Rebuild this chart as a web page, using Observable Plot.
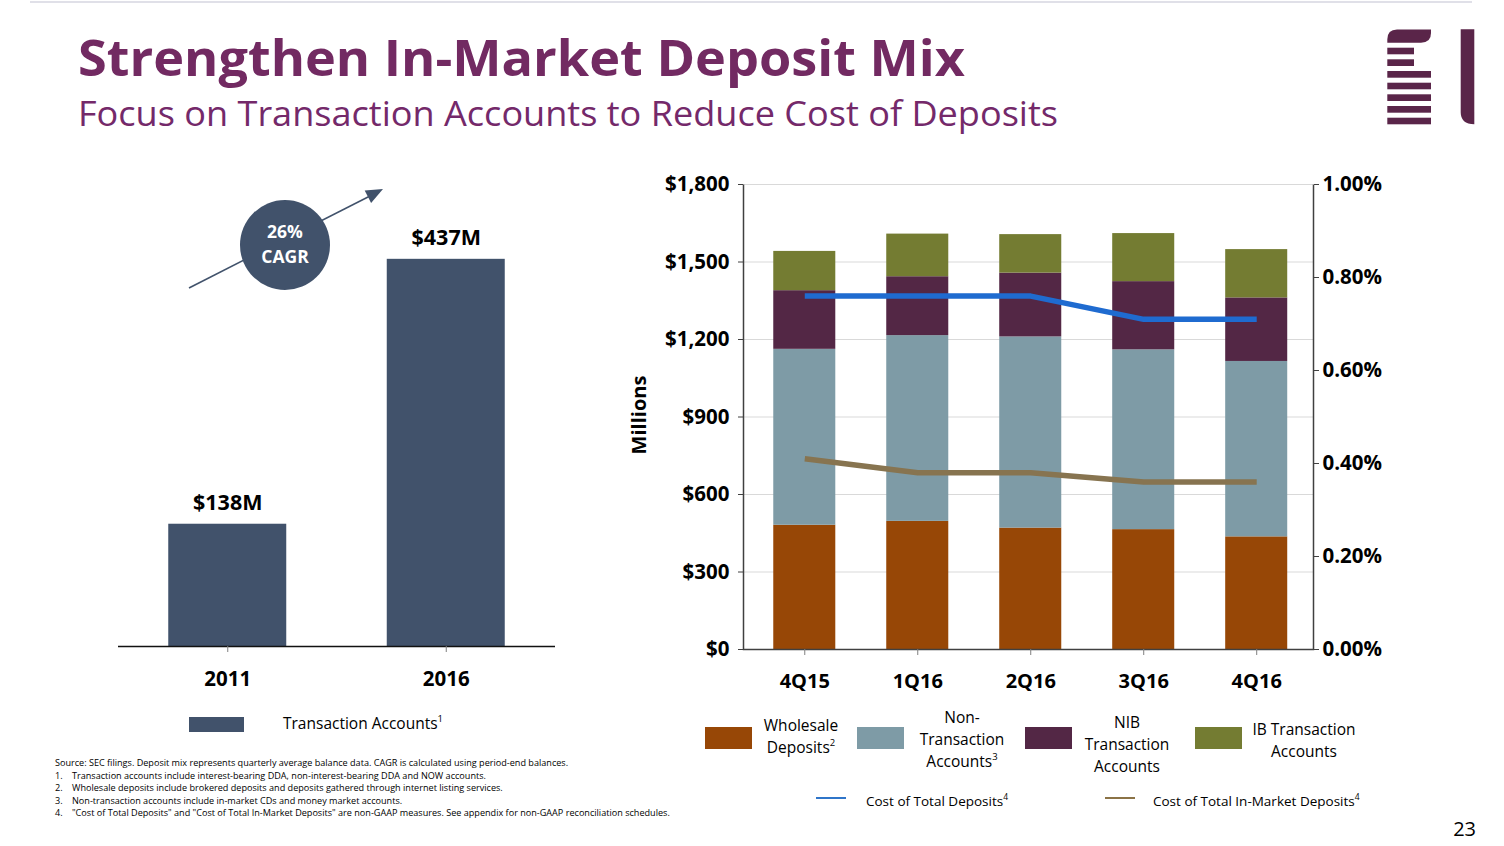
<!DOCTYPE html>
<html><head><meta charset="utf-8">
<script src="https://cdn.jsdelivr.net/npm/d3@7"></script>
<script src="https://cdn.jsdelivr.net/npm/@observablehq/plot@0.6"></script>
<style>
body{margin:0;background:#fff;}
#page{position:relative;width:1504px;height:846px;overflow:hidden;font-family:"Open Sans",sans-serif;background:#fff;}
#deco{position:absolute;left:0;top:0;}
#leftChart{position:absolute;left:40px;top:160px;}
#rightChart{position:absolute;left:600px;top:160px;}
</style></head><body><div id="page">
<div id="leftChart"></div>
<div id="rightChart"></div>
<svg id="deco" width="1504" height="846" font-family="Open Sans, sans-serif"></svg>
</div>
<script>
// ---------- data ----------
const years = ["2011", "2016"];
const transactionAccounts = [138, 437];
const transactionLabels = ["$138M", "$437M"];

const quarters = ["4Q15", "1Q16", "2Q16", "3Q16", "4Q16"];
const wholesale      = [481, 496, 470, 464, 436];
const nonTransaction = [681, 719, 740, 696, 679];
const nibTransaction = [227, 228, 247, 264, 246];
const ibTransaction  = [152, 165, 149, 186, 187];
const costTotal      = [0.76, 0.76, 0.76, 0.71, 0.71];  // %
const costInMarket   = [0.41, 0.38, 0.38, 0.36, 0.36];  // %

const seriesNames = ["Wholesale Deposits", "Non-Transaction Accounts", "NIB Transaction Accounts", "IB Transaction Accounts"];
const seriesColors = ["#974706", "#7e9ba6", "#532745", "#747c32"];
const lineNames = ["Cost of Total Deposits", "Cost of Total In-Market Deposits"];
const lineColors = ["#1f6bd0", "#877450"];

const leftTicks = [0, 300, 600, 900, 1200, 1500, 1800];
const leftTickLabels = ["$0", "$300", "$600", "$900", "$1,200", "$1,500", "$1,800"];
const rightTicks = [0, 0.2, 0.4, 0.6, 0.8, 1.0];
const rightTickLabels = ["0.00%", "0.20%", "0.40%", "0.60%", "0.80%", "1.00%"];
const rightMax = 1.0, leftMax = 1800; // 1.00% aligns with $1,800

// ---------- left chart ----------
const leftData = years.map((y, i) => ({year: y, value: transactionAccounts[i], label: transactionLabels[i]}));
const left = Plot.plot({
  width: 560, height: 560,
  marginLeft: 78, marginRight: 45, marginTop: 43, marginBottom: 74,
  style: {fontFamily: "Open Sans, sans-serif", color: "#000", background: "transparent", overflow: "visible"},
  x: {domain: years, paddingInner: 0.46, paddingOuter: 0.23, round: false},
  y: {domain: [0, 500], axis: null},
  marks: [
    Plot.barY(leftData, {x: "year", y: "value", fill: "#41526b"}),
    Plot.ruleY([0], {stroke: "#111", strokeWidth: 1.5}),
    Plot.text(leftData, {x: "year", y: "value", text: "label", dy: -21, fontSize: 21.5, fontWeight: "bold", fill: "#000"}),
    Plot.axisX({tickSize: 6, tickPadding: 19, stroke: "#7f7f7f", fontSize: 20.5, fontWeight: "bold", label: null})
  ]
});
document.getElementById("leftChart").append(left);

// ---------- right chart ----------
const stackData = [];
seriesNames.forEach((s, k) => {
  const vals = [wholesale, nonTransaction, nibTransaction, ibTransaction][k];
  quarters.forEach((q, i) => stackData.push({quarter: q, series: s, value: vals[i]}));
});
const lineData = [];
[costTotal, costInMarket].forEach((vals, k) => {
  quarters.forEach((q, i) => lineData.push({quarter: q, series: lineNames[k], pct: vals[i]}));
});
const toLeft = p => p / rightMax * leftMax;
const W = 570, H = 465;
const right = Plot.plot({
  width: 800, height: 560,
  marginLeft: 143, marginRight: 87, marginTop: 24, marginBottom: 71,
  style: {fontFamily: "Open Sans, sans-serif", color: "#000", background: "transparent", overflow: "visible"},
  x: {domain: quarters, paddingInner: 0.451, paddingOuter: 0.248, align: 0.54, round: false},
  y: {domain: [0, leftMax]},
  color: {domain: seriesNames, range: seriesColors},
  marks: [
    Plot.gridY(leftTicks, {stroke: "#d9d9d9", strokeOpacity: 1, strokeWidth: 1.2}),
    Plot.barY(stackData, {x: "quarter", y: "value", fill: "series", order: seriesNames}),
    Plot.line(lineData, {x: "quarter", y: d => toLeft(d.pct), z: "series",
      stroke: d => d.series === lineNames[0] ? lineColors[0] : lineColors[1], strokeWidth: 5.5, strokeLinejoin: "miter", strokeLinecap: "butt"}),
    Plot.frame({stroke: "#404040", strokeWidth: 1.5, strokeDasharray: `0,${W},${2 * H + W}`}),
    Plot.axisY({ticks: leftTicks, tickFormat: (d) => leftTickLabels[leftTicks.indexOf(d)], tickSize: 5, tickPadding: 9,
      stroke: "#404040", fontSize: 20.5, fontWeight: "bold", label: null}),
    Plot.axisY({anchor: "right", ticks: rightTicks.map(toLeft), tickFormat: (d, i) => rightTickLabels[i], tickSize: 5, tickPadding: 4,
      stroke: "#404040", fontSize: 20.5, fontWeight: "bold", label: null}),
    Plot.axisX({tickSize: 6, tickPadding: 18, stroke: "#7f7f7f", fontSize: 20, fontWeight: "bold", label: null})
  ]
});
document.getElementById("rightChart").append(right);

// ---------- decorations, titles, legends ----------
const svg = d3.select("#deco");
svg.append("line").attr("x1", 30).attr("x2", 1472).attr("y1", 2).attr("y2", 2).attr("stroke", "#d6d6e0").attr("stroke-width", 1.5);
svg.append("text").attr("x", 78).attr("y", 76).attr("font-size", 50).attr("font-weight", "bold").attr("fill", "#722a62")
  .attr("textLength", 887).attr("lengthAdjust", "spacingAndGlyphs").text("Strengthen In-Market Deposit Mix");
svg.append("text").attr("x", 78).attr("y", 126).attr("font-size", 34).attr("fill", "#74296a")
  .attr("textLength", 980).attr("lengthAdjust", "spacingAndGlyphs").text("Focus on Transaction Accounts to Reduce Cost of Deposits");

// logo
const logo = svg.append("g").attr("fill", "#5a2549");
logo.append("path").attr("d", "M1397,29.5 H1431 V33 Q1431,42.7 1421,42.7 H1387.3 V39.5 Q1387.3,29.5 1397,29.5 Z");
[[47.7, 54.3, 1414], [59.3, 66, 1414], [71, 77.7, 1431], [82.7, 89.3, 1431], [94.3, 101, 1431], [106, 112.7, 1431], [117.7, 124.3, 1431]]
  .forEach(([y0, y1, x1]) => logo.append("rect").attr("x", 1387.3).attr("y", y0).attr("width", x1 - 1387.3).attr("height", y1 - y0));
logo.append("path").attr("d", "M1460.7,29.3 H1474.3 V124.3 Q1460.7,124.3 1460.7,112 Z");

// CAGR annotation
const ann = svg.append("g");
ann.append("line").attr("x1", 189).attr("y1", 288).attr("x2", 370).attr("y2", 196).attr("stroke", "#41526b").attr("stroke-width", 1.6);
ann.append("polygon").attr("points", "383,189 371.1,202.9 364.7,190.5").attr("fill", "#41526b");
ann.append("circle").attr("cx", 285).attr("cy", 245).attr("r", 45).attr("fill", "#41526b");
ann.append("text").attr("x", 285).attr("y", 238).attr("text-anchor", "middle").attr("font-size", 17.5).attr("font-weight", "bold").attr("fill", "#fff").text("26%");
ann.append("text").attr("x", 285).attr("y", 263).attr("text-anchor", "middle").attr("font-size", 17.5).attr("font-weight", "bold").attr("fill", "#fff").text("CAGR");

// left legend
svg.append("rect").attr("x", 189).attr("y", 717).attr("width", 55).attr("height", 15).attr("fill", "#41526b");
const ll = svg.append("text").attr("x", 283).attr("y", 729).attr("font-size", 15.5).attr("fill", "#000");
ll.append("tspan").text("Transaction Accounts");
ll.append("tspan").attr("dy", -7).attr("font-size", 9.5).text("1");

// right legend (stacked series)
function multiline(cx, firstBaseline, lines) {
  const t = svg.append("text").attr("text-anchor", "middle").attr("font-size", 15.5).attr("fill", "#000");
  lines.forEach((ln, i) => {
    const ts = t.append("tspan").attr("x", cx).attr("y", firstBaseline + i * 22);
    ts.append("tspan").text(ln[0]);
    if (ln[1]) ts.append("tspan").attr("dy", -7).attr("font-size", 9.5).text(ln[1]);
  });
}
const swX = [705, 857, 1025, 1195];
seriesColors.forEach((c, i) => svg.append("rect").attr("x", swX[i]).attr("y", 727).attr("width", 47).attr("height", 22).attr("fill", c));
multiline(801, 731, [["Wholesale"], ["Deposits", "2"]]);
multiline(962, 723, [["Non-"], ["Transaction"], ["Accounts", "3"]]);
multiline(1127, 728, [["NIB"], ["Transaction"], ["Accounts"]]);
multiline(1304, 735, [["IB Transaction"], ["Accounts"]]);

// line legend
[[816, 866, lineNames[0]], [1105, 1153, lineNames[1]]].forEach(([lx, tx, name], i) => {
  svg.append("line").attr("x1", lx).attr("x2", lx + 30).attr("y1", 798).attr("y2", 798).attr("stroke", i ? "#8b7346" : "#2f75c9").attr("stroke-width", 2);
  const t = svg.append("text").attr("x", tx).attr("y", 806).attr("font-size", 13.5).attr("fill", "#000");
  t.append("tspan").text(name);
  t.append("tspan").attr("dy", -6).attr("font-size", 8.5).text("4");
});

// Millions label
svg.append("text").attr("transform", "translate(646,415) rotate(-90)").attr("text-anchor", "middle")
  .attr("font-size", 20).attr("font-weight", "bold").attr("fill", "#000").text("Millions");

// footnotes
const notes = [
  ["", "Source: SEC filings. Deposit mix represents quarterly average balance data. CAGR is calculated using period-end balances."],
  ["1.", "Transaction accounts include interest-bearing DDA, non-interest-bearing DDA and NOW accounts."],
  ["2.", "Wholesale deposits include brokered deposits and deposits gathered through internet listing services."],
  ["3.", "Non-transaction accounts include in-market CDs and money market accounts."],
  ["4.", "\"Cost of Total Deposits\" and \"Cost of Total In-Market Deposits\" are non-GAAP measures. See appendix for non-GAAP reconciliation schedules."]
];
notes.forEach(([n, txt], i) => {
  const y = 766 + i * 12.6;
  if (n) svg.append("text").attr("x", 55).attr("y", y).attr("font-size", 9.1).attr("fill", "#000").text(n);
  svg.append("text").attr("x", n ? 72 : 55).attr("y", y).attr("font-size", 9.1).attr("fill", "#000").text(txt);
});

// page number
svg.append("text").attr("x", 1476).attr("y", 836).attr("text-anchor", "end").attr("font-size", 20).attr("fill", "#000").text("23");
</script>
</body></html>
